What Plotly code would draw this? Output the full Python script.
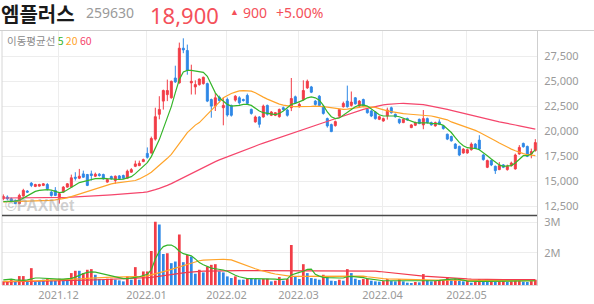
import plotly.graph_objects as go

# ---------------- data ----------------
O = [13300,13460,13290,13130,12800,13560,14050,14850,14520,14550,
     14620,14710,13950,14120,13290,13950,14450,14450,15440,15340,
     15770,15710,15770,15540,15740,15710,14950,15510,15110,15570,
     15610,15340,15940,16530,16600,17000,17820,17860,19250,21730,
     23050,23700,23380,25360,24870,28340,28110,24870,24470,24700,
     24800,24800,23210,22550,23450,22390,23210,22620,23150,23380,
     23210,23610,22220,20970,21460,21460,22620,21630,21630,21490,
     22390,22160,22390,23480,22490,23210,24370,24470,23050,23540,
     22550,21300,20700,20600,21550,22490,23050,22620,23380,22550,
     23210,22220,22060,21960,21230,21060,21560,22390,21730,21230,
     20900,21300,20400,20630,21230,20670,21300,20900,20570,20970,
     20570,19740,19510,18750,18520,17860,17860,18190,18750,19150,
     17660,16430,17100,16530,16200,16670,16200,16600,16270,17760,
     18820,18520,17760,18100]
H = [13720,13620,13400,13200,13790,14280,14150,14950,14780,14780,
     14850,14850,14050,14450,13950,14550,14850,15700,15940,16270,
     16100,15770,16100,15900,15850,15800,15300,15600,15610,15650,
     15700,16200,16350,17100,17100,17300,18420,19500,22390,23540,
     24200,25200,25100,26590,28900,29330,28700,26690,25130,25300,
     25500,24900,23300,23880,23600,23380,23400,22700,23650,23540,
     23300,23800,22300,21600,21550,22700,22700,22050,21950,22300,
     22500,22250,25360,23600,22900,25130,25200,24570,23150,23650,
     22650,21400,20800,21100,22250,23000,24600,24010,23450,23150,
     23300,22300,22150,22050,21600,21400,22400,22500,21800,21300,
     21300,21400,20750,21000,21300,22160,21400,21000,21000,21230,
     20650,19800,19600,18850,18600,18350,18300,18920,18850,19640,
     17750,17200,17200,16600,16950,16750,16700,17000,17800,18650,
     18900,18600,18300,19250]
L = [13130,13130,12950,12750,12750,13500,13900,14450,14450,14500,
     14550,14120,13500,13550,12800,13900,14400,14400,15110,15250,
     15400,14550,15110,15450,15500,15200,14900,15200,14780,15200,
     15250,15300,15900,16450,16550,16950,17300,17800,19100,21230,
     22200,23050,23300,24870,24800,27840,25690,23710,23710,24600,
     24700,22950,21390,22060,22900,20630,21500,21500,23000,22700,
     23000,22700,21700,20900,20400,21400,21600,21550,21550,21400,
     22100,21500,22050,22800,22400,23100,24270,23850,22600,22500,
     21700,20400,19950,20500,21450,22400,22400,22500,22700,22450,
     22450,21800,21450,21200,21150,21000,21200,21800,21400,20750,
     20850,21100,20350,20550,20750,20240,20800,20600,20500,20650,
     20200,19150,19000,18250,17550,17800,17800,18100,18250,18150,
     17100,16350,16550,15770,16150,16350,16100,16500,16200,17700,
     18400,17450,17330,18000]
C = [13520,13290,13030,12800,13620,14120,13950,14620,14710,14710,
     14780,14280,13620,13620,13790,14450,14780,15380,15340,15540,
     15440,14620,15610,15740,15610,15280,15210,15280,15540,15280,
     15340,16040,16200,16770,16830,17200,17430,19310,21490,22220,
     24110,24110,25030,24970,28340,28170,26120,25030,24700,25260,
     25430,23050,22550,23380,23110,22620,21660,21630,23540,22880,
     23110,22820,21820,21460,20730,22550,21730,21960,21890,22220,
     22220,21630,23310,22880,22720,24110,25030,23940,22720,22620,
     21820,20570,20000,21000,22200,22820,22490,22950,22780,23050,
     22550,21890,21560,21300,21490,21300,22160,21890,21490,20900,
     21230,21160,20670,20900,20800,21300,20900,20670,20900,20730,
     20300,19250,19080,18320,17660,18250,18190,18750,18320,18250,
     17200,17100,16670,16100,16600,16430,16530,16860,17660,18420,
     18490,17530,18000,18900]

MA5 = [13000,13000,13020,13050,13130,13350,13600,13850,14020,14130,
       14180,14190,14150,14020,13900,13940,14150,14420,14650,14900,
       15020,15100,15200,15300,15350,15330,15290,15260,15230,15210,
       15250,15350,15500,15800,16200,16600,16900,17500,18300,19200,
       20300,21400,22500,23900,25200,25960,26120,26120,26060,25990,
       25920,25530,24700,23880,23380,23050,22720,22550,22550,22620,
       22720,22720,22620,22320,22060,21890,21820,21760,21690,21820,
       22060,22390,22720,22820,22950,23150,23380,23480,23380,23150,
       22620,21960,21490,21300,21360,21630,21960,22220,22490,22650,
       22680,22550,22290,21960,21690,21560,21560,21630,21560,21490,
       21360,21230,21030,20900,20870,20900,20870,20830,20800,20770,
       20630,20300,19910,19410,18920,18580,18390,18350,18320,18190,
       17920,17590,17260,16930,16670,16530,16530,16600,16860,17260,
       17590,17590,17760,18190]
MA20 = [12970,12980,12990,13000,13000,13010,13020,13030,13050,13070,
        13090,13110,13130,13180,13240,13300,13380,13500,13630,13770,
        13900,14040,14180,14320,14450,14560,14670,14780,14840,14900,
        14950,15010,15060,15110,15270,15440,15690,15940,16270,16600,
        16930,17330,17720,18230,18750,19350,19900,20300,20650,20900,
        21300,21650,22050,22500,22950,23380,23600,23810,23950,24070,
        24100,24110,24050,23880,23700,23450,23250,23060,22880,22750,
        22650,22550,22520,22500,22490,22500,22510,22520,22540,22550,
        22500,22440,22390,22320,22250,22220,22250,22290,22320,22420,
        22490,22470,22440,22420,22300,22160,22070,21990,21900,21830,
        21790,21760,21730,21710,21700,21690,21630,21560,21470,21380,
        21300,21180,20970,20830,20700,20570,20440,20300,20120,19930,
        19740,19530,19310,19090,18870,18650,18450,18250,18080,17920,
        17800,17690,17630,17590]
MA60 = [13360,13360,13360,13360,13360,13370,13370,13375,13380,13385,
        13390,13395,13400,13405,13410,13415,13420,13440,13455,13470,
        13490,13515,13540,13565,13590,13615,13640,13665,13690,13715,
        13740,13765,13790,13830,13870,13920,13980,14060,14200,14320,
        14450,14620,14800,15000,15200,15420,15650,15870,16080,16280,
        16460,16640,16820,17000,17170,17330,17500,17660,17810,17960,
        18110,18250,18400,18560,18710,18850,18990,19130,19270,19410,
        19550,19690,19830,19970,20100,20220,20350,20470,20610,20750,
        20890,21030,21160,21290,21430,21560,21690,21790,21930,22080,
        22220,22320,22420,22520,22620,22680,22730,22780,22800,22810,
        22820,22800,22780,22750,22720,22690,22620,22550,22480,22400,
        22320,22220,22120,22020,21920,21830,21730,21630,21540,21450,
        21360,21260,21160,21070,20980,20900,20840,20730,20660,20580,
        20500,20410,20320,20240]

# volume in millions of shares
VOL = [1.07,1.05,1.146,1.05,1.242,1.242,1.05,1.50,1.05,1.07,
       1.124,1.146,1.124,1.092,1.156,1.124,1.124,1.339,1.414,1.414,
       1.339,1.447,1.468,1.285,1.146,1.124,1.156,1.156,1.124,1.103,
       1.07,1.232,1.124,1.533,1.124,1.393,1.393,2.059,3.005,2.92,
       1.963,1.984,1.662,1.715,2.597,1.694,1.930,1.877,1.318,1.447,
       1.361,1.554,1.608,1.629,1.393,1.361,1.232,1.178,1.232,1.124,
       1.124,1.178,1.156,1.146,1.135,1.146,1.156,1.07,1.092,1.21,
       1.092,1.146,2.253,1.232,1.146,1.629,1.339,1.178,1.156,1.124,
       1.285,1.21,1.092,1.08,1.124,1.092,1.468,1.339,1.156,1.113,
       1.146,1.156,1.092,1.07,1.06,1.08,1.146,1.08,1.07,1.146,
       1.07,1.027,1.017,1.05,1.039,1.307,1.113,1.07,1.08,1.103,
       1.113,1.199,1.124,1.156,1.092,1.07,1.08,1.027,1.06,1.146,
       1.07,1.05,1.07,1.05,1.07,1.08,1.05,1.07,1.135,1.146,
       1.06,1.05,1.08,1.124]
VOL_UP = [1,1,1,0,1,1,0,1,0,0,
          0,1,0,0,1,0,0,1,1,0,
          1,1,1,0,0,0,1,1,0,0,
          0,1,0,1,0,1,1,1,1,0,
          0,1,0,0,1,0,1,0,0,1,
          0,1,1,1,0,0,0,0,1,0,
          0,1,0,0,0,1,1,0,1,1,
          0,1,1,0,0,1,0,0,0,0,
          1,0,0,0,1,0,1,0,0,0,
          1,1,0,0,0,1,1,0,0,1,
          0,0,0,1,0,1,0,0,1,1,
          1,1,0,1,0,0,1,0,1,1,
          0,0,1,0,1,1,0,1,1,1,
          0,0,1,1]
VMA5 = [1.12,1.14,1.14,1.12,1.10,1.10,1.12,1.16,1.18,1.18,
        1.17,1.16,1.14,1.13,1.14,1.14,1.15,1.17,1.21,1.27,
        1.32,1.36,1.38,1.37,1.34,1.31,1.27,1.24,1.21,1.18,
        1.16,1.16,1.17,1.20,1.22,1.27,1.30,1.45,1.80,2.05,
        2.20,2.25,2.25,2.18,2.05,1.97,1.93,1.90,1.80,1.68,
        1.61,1.55,1.50,1.48,1.47,1.44,1.40,1.33,1.27,1.22,
        1.19,1.16,1.16,1.16,1.16,1.15,1.15,1.15,1.14,1.13,
        1.13,1.15,1.28,1.33,1.36,1.40,1.46,1.47,1.30,1.24,
        1.20,1.19,1.18,1.18,1.18,1.18,1.22,1.23,1.22,1.21,
        1.19,1.16,1.14,1.12,1.10,1.09,1.09,1.09,1.09,1.09,
        1.08,1.07,1.07,1.07,1.08,1.09,1.09,1.09,1.09,1.10,
        1.12,1.13,1.14,1.15,1.14,1.11,1.08,1.07,1.07,1.07,
        1.07,1.07,1.07,1.07,1.07,1.07,1.07,1.08,1.09,1.09,
        1.09,1.09,1.09,1.09]
VMA20 = [1.07,1.07,1.07,1.075,1.08,1.08,1.085,1.09,1.09,1.095,
         1.10,1.10,1.105,1.11,1.115,1.12,1.12,1.13,1.14,1.15,
         1.16,1.17,1.18,1.19,1.20,1.21,1.21,1.21,1.21,1.21,
         1.21,1.21,1.21,1.21,1.22,1.23,1.25,1.28,1.31,1.35,
         1.39,1.42,1.46,1.50,1.55,1.59,1.63,1.68,1.71,1.74,
         1.76,1.77,1.78,1.79,1.79,1.79,1.78,1.77,1.72,1.67,
         1.61,1.57,1.52,1.48,1.44,1.40,1.37,1.34,1.31,1.29,
         1.26,1.24,1.23,1.23,1.23,1.23,1.23,1.23,1.23,1.23,
         1.23,1.23,1.23,1.23,1.23,1.23,1.23,1.24,1.25,1.25,
         1.24,1.22,1.20,1.18,1.17,1.16,1.15,1.145,1.14,1.14,
         1.135,1.13,1.13,1.125,1.125,1.12,1.12,1.115,1.11,1.11,
         1.11,1.105,1.10,1.10,1.10,1.10,1.095,1.095,1.09,1.09,
         1.09,1.09,1.09,1.09,1.09,1.09,1.09,1.09,1.09,1.09,
         1.09,1.09,1.09,1.09]
VMA60 = [1.05,1.052,1.055,1.057,1.06,1.062,1.065,1.067,1.07,1.072,
         1.075,1.077,1.08,1.082,1.085,1.087,1.09,1.094,1.098,1.102,
         1.106,1.11,1.114,1.118,1.122,1.126,1.13,1.134,1.138,1.142,
         1.146,1.15,1.155,1.165,1.175,1.185,1.19,1.20,1.22,1.245,
         1.27,1.285,1.30,1.315,1.33,1.345,1.36,1.375,1.39,1.395,
         1.40,1.405,1.41,1.413,1.416,1.42,1.42,1.42,1.42,1.42,
         1.42,1.42,1.42,1.42,1.42,1.42,1.42,1.42,1.42,1.42,
         1.42,1.42,1.42,1.42,1.42,1.42,1.42,1.42,1.42,1.42,
         1.42,1.42,1.42,1.42,1.42,1.42,1.42,1.42,1.42,1.418,
         1.415,1.412,1.41,1.40,1.39,1.375,1.36,1.345,1.33,1.315,
         1.30,1.29,1.28,1.265,1.25,1.24,1.235,1.225,1.21,1.20,
         1.19,1.182,1.175,1.167,1.16,1.155,1.15,1.145,1.14,1.137,
         1.135,1.134,1.133,1.132,1.131,1.13,1.129,1.128,1.127,1.126,
         1.125,1.125,1.124,1.124]

PRICE_TICKS = [12500, 15000, 17500, 20000, 22500, 25000, 27500]
VOL_TICKS = [2, 3]
VOL_TICK_TEXT = ["2M", "3M"]
MONTH_IDX = [14, 36, 56, 74, 95, 116]
MONTH_LABELS = ["2021.12", "2022.01", "2022.02", "2022.03", "2022.04", "2022.05"]

NAME = "엠플러스"
CODE = "259630"
LAST = "18,900"
CHG = "900"
PCT = "+5.00%"

# ---------------- style ----------------
RED = "#f23d47"
BLUE = "#2f88e6"
GREEN = "#35b52a"
ORANGE = "#ffa42a"
PINK = "#f5466c"
VRED = "#f2394c"
GRID = "#ededed"
TXT = "#9a9a9a"
W, HH = 594, 304
ML, MR, MT, MB = 2, 57, 31, 17
PW = W - ML - MR
PH = HH - MT - MB
SPLIT = (287 - 217) / PH

idx = list(range(len(C)))
vol_units = [v * 1e6 for v in VOL]

fig = go.Figure()
fig.add_trace(go.Candlestick(
    x=idx, open=O, high=H, low=L, close=C,
    increasing=dict(line=dict(color=RED, width=1), fillcolor=RED),
    decreasing=dict(line=dict(color=BLUE, width=1), fillcolor=BLUE),
    whiskerwidth=0, hoverinfo="skip", xaxis="x", yaxis="y"))
for ma, col in ((MA60, PINK), (MA20, ORANGE), (MA5, GREEN)):
    fig.add_trace(go.Scatter(x=idx, y=ma, mode="lines",
                             line=dict(color=col, width=1.2),
                             hoverinfo="skip", xaxis="x", yaxis="y"))
fig.add_trace(go.Bar(x=idx, y=vol_units,
                     marker=dict(color=[RED if u else BLUE for u in VOL_UP], line=dict(width=0)),
                     width=0.68, hoverinfo="skip", xaxis="x2", yaxis="y2"))
for ma, col in ((VMA60, VRED), (VMA20, ORANGE), (VMA5, GREEN)):
    fig.add_trace(go.Scatter(x=idx, y=[v * 1e6 for v in ma], mode="lines",
                             line=dict(color=col, width=1.2),
                             hoverinfo="skip", xaxis="x2", yaxis="y2"))

xr = [-0.33, 133.42]
tickpos = [m - 0.2 for m in MONTH_IDX]
font = "Noto Sans, Open Sans, sans-serif"

fig.update_layout(
    width=W, height=HH, margin=dict(l=ML, r=MR, t=MT, b=MB),
    paper_bgcolor="white", plot_bgcolor="white", showlegend=False,
    hovermode=False,
    xaxis=dict(domain=[0, 1], range=xr, tickvals=tickpos, showticklabels=False,
               showgrid=True, gridcolor=GRID, gridwidth=1, zeroline=False,
               rangeslider=dict(visible=False), anchor="y", fixedrange=True),
    yaxis=dict(domain=[SPLIT, 1], range=[11607, 30060], side="right",
               tickvals=PRICE_TICKS, ticktext=[f"{v:,}" for v in PRICE_TICKS],
               tickfont=dict(family=font, size=11, color=TXT),
               ticks="outside", ticklen=4, tickcolor="rgba(0,0,0,0)",
               showgrid=True, gridcolor=GRID, zeroline=False, anchor="x",
               showline=True, linecolor="#cfcfcf", linewidth=1),
    xaxis2=dict(domain=[0, 1], range=xr, tickvals=tickpos, ticktext=MONTH_LABELS,
                tickfont=dict(family=font, size=11, color=TXT),
                ticks="", showgrid=True, gridcolor=GRID, zeroline=False,
                anchor="y2", showline=True, linecolor="#dddddd"),
    yaxis2=dict(domain=[0, SPLIT], range=[0.952e6, 3.21e6], side="right",
                tickvals=[v * 1e6 for v in VOL_TICKS], ticktext=VOL_TICK_TEXT,
                tickfont=dict(family=font, size=11, color=TXT),
                ticks="outside", ticklen=4, tickcolor="rgba(0,0,0,0)",
                showgrid=True, gridcolor=GRID, zeroline=False, anchor="x2",
                showline=True, linecolor="#cfcfcf", linewidth=1),
)


def px(x):
    return (x - ML) / PW


def py(y):
    return (HH - MB - y) / PH


shapes = [
    dict(type="line", xref="paper", yref="paper", x0=px(0), x1=px(W), y0=py(30.5), y1=py(30.5),
         line=dict(color="#cfcfcf", width=1)),
    dict(type="line", xref="paper", yref="paper", x0=px(2), x1=px(2), y0=py(31), y1=py(287),
         line=dict(color="#d6d6d6", width=1)),
    dict(type="line", xref="paper", yref="paper", x0=0, x1=1, y0=SPLIT, y1=SPLIT,
         line=dict(color="#4a4a4a", width=1.4)),
]
fig.update_layout(shapes=shapes)

kr = "Noto Sans CJK KR"
anns = [
    dict(text=f"<b>{NAME}</b>", x=px(0), y=py(13.3), size=20, color="#1a1a1a", family=kr),
    dict(text=CODE, x=px(85), y=py(12.5), size=14, color="#9a9a9a", family=font),
    dict(text=LAST, x=px(149), y=py(14.4), size=22, color="#f4505a", family=font),
    dict(text="▲", x=px(229), y=py(11.5), size=9, color="#f4505a", family=font),
    dict(text=CHG, x=px(242), y=py(12.5), size=14, color="#f4505a", family=font),
    dict(text=PCT, x=px(275), y=py(12.5), size=14, color="#f4505a", family=font),
    dict(text=("<span style='color:#8a8a8a'>이동평균선</span> "
               f"<span style='color:{GREEN}'>5</span> "
               f"<span style='color:{ORANGE}'>20</span> "
               f"<span style='color:{PINK}'>60</span>"),
         x=px(6), y=py(41), size=10.5, color="#8a8a8a", family=kr),
    dict(text="<b>©PAXNet</b>", x=px(4), y=py(206.5), size=16,
         color="rgba(150,150,150,0.45)", family="Liberation Sans"),
]
for a in anns:
    fig.add_annotation(text=a["text"], x=a["x"], y=a["y"], xref="paper", yref="paper",
                       xanchor="left", yanchor="middle", showarrow=False, borderpad=0,
                       font=dict(size=a["size"], color=a["color"], family=a["family"]))

fig.write_html("out.html", config={"displayModeBar": False})
